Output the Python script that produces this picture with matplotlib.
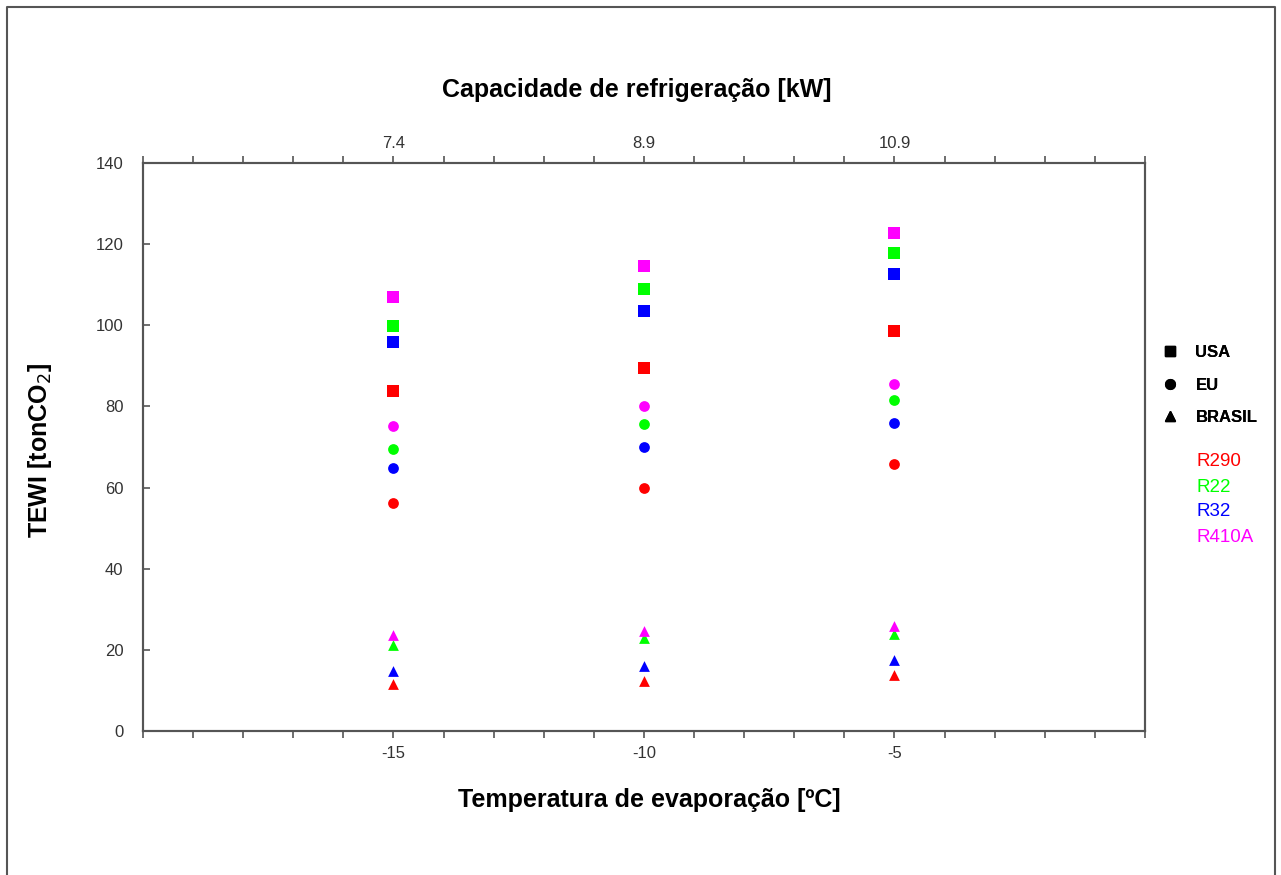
import matplotlib.pyplot as plt
from matplotlib.lines import Line2D

plt.rcParams['font.family'] = ['Liberation Sans', 'DejaVu Sans']

# Data
temps = [-15, -10, -5]
capacity = ['7.4', '8.9', '10.9']
refrigerants = ['R290', 'R22', 'R32', 'R410A']
colors = ['#ff0000', '#00ff00', '#0000ff', '#ff00ff']

usa = {'R290': [83.8, 89.5, 98.5],
       'R22': [99.8, 109.0, 117.8],
       'R32': [96.0, 103.6, 112.6],
       'R410A': [106.9, 114.5, 122.8]}
eu = {'R290': [56.2, 59.8, 65.9],
      'R22': [69.4, 75.7, 81.7],
      'R32': [64.9, 70.0, 75.9],
      'R410A': [75.1, 80.0, 85.5]}
brasil = {'R290': [11.5, 12.4, 13.7],
          'R22': [21.3, 22.8, 24.0],
          'R32': [14.9, 16.0, 17.4],
          'R410A': [23.6, 24.7, 25.8]}

regions = ['USA', 'EU', 'BRASIL']
region_data = [usa, eu, brasil]
region_markers = ['s', 'o', '^']

fig = plt.figure(figsize=(12.81, 8.75), dpi=100)
ax = fig.add_axes([0.1116, 0.1646, 0.7822, 0.6491])

sizes = {'s': 75, 'o': 60, '^': 60}
for data, mk in zip(region_data, region_markers):
    for ref, c in zip(refrigerants, colors):
        ax.scatter(temps, data[ref], marker=mk, s=sizes[mk], color=c,
                   linewidths=0, zorder=3)

ax.set_xlim(-20, 0)
ax.set_ylim(0, 140)
ax.set_yticks(range(0, 141, 20))
xt = list(range(-20, 1))
ax.set_xticks(xt)
ax.set_xticklabels([str(t) if t in temps else '' for t in xt])
ax.tick_params(axis='x', direction='out', length=5, width=1.2, color='#555555',
               labelsize=12, labelcolor='#333333', pad=6)
ax.tick_params(axis='y', direction='in', length=5, width=1.2, color='#555555',
               labelsize=12, labelcolor='#333333', pad=14)
for s in ax.spines.values():
    s.set_color('#555555')
    s.set_linewidth(1.5)

# top axis: refrigeration capacity
ax2 = ax.twiny()
ax2.set_xlim(ax.get_xlim())
ax2.set_xticks(xt)
ax2.set_xticklabels([capacity[temps.index(t)] if t in temps else '' for t in xt])
ax2.tick_params(axis='x', direction='out', length=5, width=1.2, color='#555555',
                labelsize=12, labelcolor='#333333', pad=4)
for s in ax2.spines.values():
    s.set_color('#555555')
    s.set_linewidth(1.5)

fig.text(0.497, 0.897, 'Capacidade de refrigeração [kW]', ha='center', va='center',
         fontsize=18, fontweight='bold')
fig.text(0.507, 0.086, 'Temperatura de evaporação [ºC]', ha='center', va='center',
         fontsize=18, fontweight='bold')
fig.text(0.031, 0.485, 'TEWI [tonCO$_2$]', ha='center', va='center', rotation=90,
         fontsize=18, fontweight='bold')

# legend for regions
handles = [Line2D([], [], marker=m, color='black', linestyle='none', markersize=7)
           for m in region_markers]
leg = ax.legend(handles, regions, loc='upper left', bbox_to_anchor=(0.902, 0.613),
                bbox_transform=fig.transFigure, frameon=False, handlelength=1,
                handletextpad=1.0, labelspacing=1.05, borderaxespad=0,
                prop={'weight': 'bold', 'size': 12})
ax.add_artist(leg)

# refrigerant colour key
for i, (ref, c) in enumerate(zip(refrigerants, colors)):
    fig.text(0.934, (875 - 462 - 25 * i) / 875, ref, color=c, fontsize=13.5,
             ha='left', va='center')

# outer frame
fig.add_artist(Line2D([0.0055, 0.0055, 0.9953, 0.9953], [0.0, 0.992, 0.992, 0.0],
                      transform=fig.transFigure, color='#555555', linewidth=1.5))

fig.savefig('out.png', dpi=100)
